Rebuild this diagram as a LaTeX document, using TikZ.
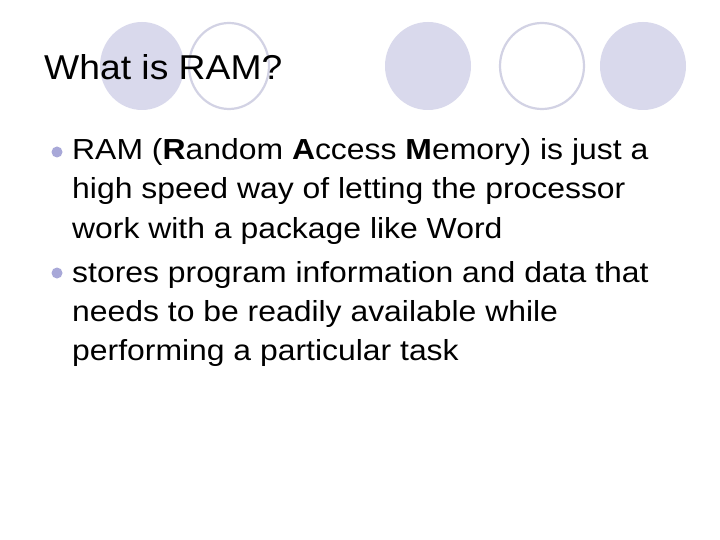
\documentclass[tikz,border=0pt]{standalone}
\usepackage{fontspec}
\setmainfont{Liberation Sans}
\newfontfamily\bodyfont[FakeStretch=1.1]{Liberation Sans}
\newfontfamily\titlefont[FakeStretch=1.08]{Liberation Sans}
\definecolor{lav}{HTML}{D9D9EC}
\definecolor{lavline}{HTML}{D2D2E4}
\definecolor{dotc}{HTML}{A8A8D8}
\begin{document}
\begin{tikzpicture}[x=1pt,y=-1pt,
  fc/.style={fill=lav,draw=none},
  oc/.style={draw=lavline,line width=2.2pt,fill=white},
  body/.style={anchor=base west,inner sep=0,font=\bodyfont\fontsize{29}{29}\selectfont},
  dot/.style={circle,fill=dotc,minimum size=11pt,inner sep=0}]
\useasboundingbox (0,0) rectangle (720,540);
\fill[white] (0,0) rectangle (720,540);
\path[fc] (142,66) ellipse [x radius=42,y radius=44];
\path[oc] (229,66) ellipse [x radius=40,y radius=43];
\path[fc] (428,66) ellipse [x radius=43,y radius=44];
\path[oc] (542,66) ellipse [x radius=42,y radius=43];
\path[fc] (643,66) ellipse [x radius=43,y radius=44];
\node[anchor=base west,inner sep=0,font=\titlefont\fontsize{34.5}{34.5}\selectfont] (title) at (44,80) {What is RAM?};
\node[dot] (b1) at (57,152) {};
\node[body] (l1) at (72,160) {RAM (\textbf{R}andom \textbf{A}ccess \textbf{M}emory) is just a};
\node[body] (l2) at (72,199) {high speed way of letting the processor};
\node[body] (l3) at (72,238) {work with a package like Word};
\node[dot] (b2) at (57,273) {};
\node[body] (l4) at (72,282) {stores program information and data that};
\node[body] (l5) at (72,321) {needs to be readily available while};
\node[body] (l6) at (72,360) {performing a particular task};
\end{tikzpicture}
\end{document}
